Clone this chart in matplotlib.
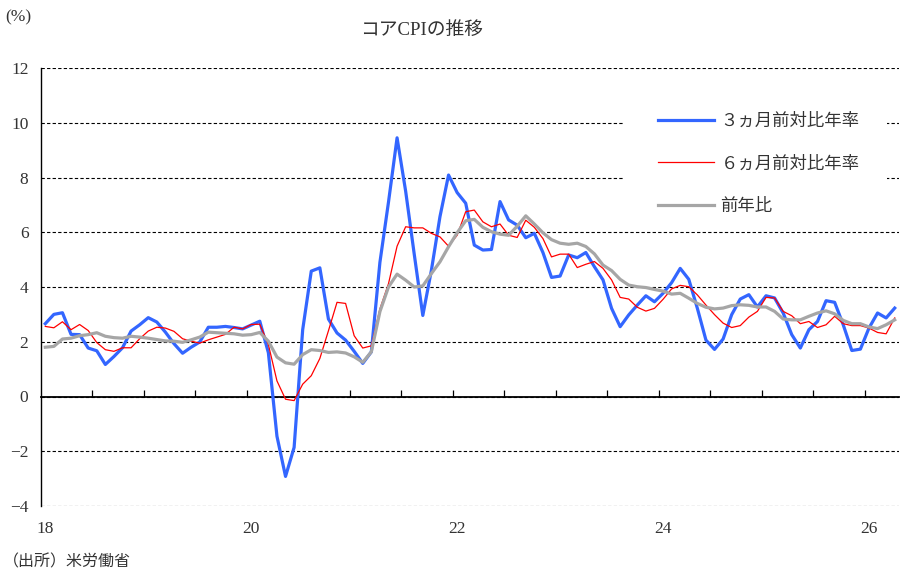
import numpy as np
import matplotlib
matplotlib.use("Agg")
import matplotlib.pyplot as plt
from matplotlib.patches import Rectangle

# フォント（英数字は明朝風のセリフ、和文はCJK）
plt.rcParams['font.family'] = ['Liberation Serif', 'Noto Sans CJK JP']
plt.rcParams['axes.unicode_minus'] = True

# データ（2018年1月～2026年4月、月次）
m3_ann = [2.66, 3.00, 3.06, 2.27, 2.26, 1.77, 1.67, 1.17, 1.46, 1.78,
          2.39, 2.62, 2.88, 2.72, 2.35, 1.93, 1.58, 1.80, 1.99, 2.53,
          2.53, 2.56, 2.52, 2.47, 2.61, 2.75, 1.60, -1.45, -2.92, -1.86,
          2.44, 4.58, 4.70, 2.83, 2.32, 2.06, 1.65, 1.21, 1.63, 4.90,
          7.10, 9.45, 7.50, 5.20, 2.96, 4.61, 6.57, 8.09, 7.45, 7.06,
          5.53, 5.35, 5.37, 7.12, 6.45, 6.26, 5.80, 5.96, 5.26, 4.35,
          4.40, 5.17, 5.07, 5.26, 4.74, 4.26, 3.22, 2.55, 2.98, 3.34,
          3.68, 3.46, 3.77, 4.16, 4.68, 4.28, 3.22, 2.06, 1.72, 2.10,
          2.99, 3.56, 3.72, 3.27, 3.68, 3.60, 3.05, 2.26, 1.77, 2.44,
          2.74, 3.50, 3.44, 2.62, 1.68, 1.73, 2.50, 3.05, 2.87, 3.23]

m6_ann = [2.56, 2.51, 2.73, 2.44, 2.63, 2.41, 1.97, 1.71, 1.65, 1.78,
          1.78, 2.11, 2.39, 2.53, 2.50, 2.38, 2.11, 2.02, 1.95, 2.07,
          2.17, 2.27, 2.53, 2.47, 2.63, 2.64, 1.90, 0.57, -0.10, -0.15,
          0.45, 0.76, 1.39, 2.40, 3.44, 3.40, 2.22, 1.77, 1.85, 3.20,
          4.12, 5.49, 6.20, 6.16, 6.16, 5.96, 5.83, 5.49, 5.89, 6.75,
          6.81, 6.38, 6.20, 6.30, 5.89, 5.81, 6.44, 6.18, 5.77, 5.10,
          5.20, 5.20, 4.71, 4.83, 4.93, 4.68, 4.26, 3.62, 3.56, 3.26,
          3.12, 3.22, 3.55, 3.93, 4.06, 4.01, 3.71, 3.34, 2.99, 2.68,
          2.52, 2.59, 2.90, 3.11, 3.62, 3.60, 3.11, 2.95, 2.66, 2.74,
          2.52, 2.62, 2.93, 2.66, 2.59, 2.59, 2.50, 2.34, 2.29, 2.87]

yoy = [1.80, 1.83, 2.10, 2.13, 2.22, 2.26, 2.33, 2.20, 2.15, 2.13,
       2.20, 2.17, 2.13, 2.08, 2.03, 2.02, 1.98, 2.07, 2.17, 2.35,
       2.33, 2.31, 2.29, 2.24, 2.26, 2.34, 2.02, 1.44, 1.23, 1.18,
       1.53, 1.71, 1.68, 1.61, 1.63, 1.59, 1.45, 1.25, 1.63, 3.10,
       4.00, 4.47, 4.25, 4.00, 4.04, 4.49, 4.92, 5.47, 5.98, 6.42,
       6.47, 6.18, 6.02, 5.93, 5.89, 6.22, 6.60, 6.30, 5.98, 5.73,
       5.60, 5.56, 5.60, 5.48, 5.21, 4.80, 4.60, 4.28, 4.07, 4.01,
       3.98, 3.91, 3.85, 3.74, 3.77, 3.59, 3.40, 3.26, 3.20, 3.23,
       3.32, 3.35, 3.33, 3.27, 3.27, 3.11, 2.83, 2.80, 2.80, 2.93,
       3.05, 3.13, 3.02, 2.78, 2.66, 2.66, 2.54, 2.48, 2.62, 2.80]

year_labels = ['18', '20', '22', '24', '26']
series_names = ['３ヵ月前対比年率', '６ヵ月前対比年率', '前年比']

n = len(yoy)
x = np.arange(n)

fig = plt.figure(figsize=(9.04, 5.72), dpi=100)
W, H = 904, 572
ax = fig.add_axes([41 / W, 1 - 506 / H, (899 - 41) / W, (506 - 68) / H])

ax.plot(x, m3_ann, color='#3366FF', lw=2.3, label=series_names[0], zorder=3)
ax.plot(x, m6_ann, color='#FF0000', lw=0.9, label=series_names[1], zorder=3)
ax.plot(x, yoy, color='#A6A6A6', lw=2.3, label=series_names[2], zorder=3)

ax.set_xlim(-0.5, n - 0.5)
ax.set_ylim(-4, 12)
ax.set_yticks(np.arange(-4, 13, 2))
ax.set_xticks(np.arange(0, n, 24))
ax.set_xticklabels(year_labels)
ax.tick_params(axis='both', length=0, labelsize=12.5, colors='#333333')
ax.tick_params(axis='y', pad=9)
ax.tick_params(axis='x', pad=11)

# 点線のグリッド
ax.set_axisbelow(True)
ax.yaxis.grid(True, color='black', lw=0.8, linestyle=(0, (3, 2)))
for s in ['top', 'right', 'bottom']:
    ax.spines[s].set_visible(False)
ax.spines['left'].set_color('black')
ax.spines['left'].set_linewidth(1.0)

# ゼロ線と半年ごとの目盛り
zero_ax = ax.secondary_xaxis(0.25)
zero_ax.set_xticks(np.arange(6, n, 6) - 0.5)
zero_ax.set_xticklabels([])
zero_ax.tick_params(direction='in', length=5, width=0.9, color='black')
zero_ax.spines['bottom'].set_color('black')
zero_ax.spines['bottom'].set_linewidth(1.3)

# 凡例
ax.add_patch(Rectangle((623 / W, 1 - 222 / H), 264 / W, 122 / H,
                       transform=fig.transFigure, facecolor='white',
                       edgecolor='none', zorder=2))
leg = ax.legend(loc='upper left', bbox_to_anchor=(658 / W, 1 - 114 / H),
                bbox_transform=fig.transFigure, frameon=False, fontsize=12.5,
                handlelength=3.2, handletextpad=0.4, labelspacing=1.5,
                borderpad=0, borderaxespad=0)
for t in leg.get_texts():
    t.set_color('#333333')

fig.text(422 / W, 1 - 30 / H, 'コアCPIの推移', ha='center', va='center',
         fontsize=13.5, color='#333333')
fig.text(5 / W, 1 - 17 / H, '(%)', ha='left', va='center', fontsize=12.5,
         color='#333333')
fig.text(3 / W, 1 - 562 / H, '（出所）米労働省', ha='left', va='center',
         fontsize=11.5, color='#333333')

fig.savefig('out.png', dpi=100)
